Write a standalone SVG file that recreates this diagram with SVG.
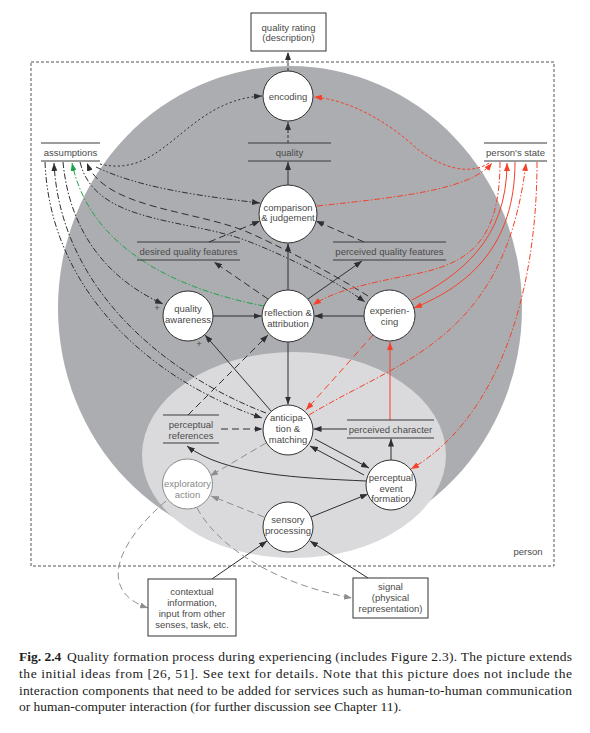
<svg xmlns="http://www.w3.org/2000/svg" width="590" height="733" viewBox="0 0 590 733">
<style>
.t{font-family:"Liberation Sans",Arial,sans-serif;font-size:9.5px;fill:#4a4a4a;text-anchor:middle}
.tg{fill:#8a8a8a}
.nd{fill:#fff;stroke:#333;stroke-width:1}
.ng{fill:#fff;stroke:#8c8c8c;stroke-width:1}
.bx{fill:#fff;stroke:#333;stroke-width:1}
.bl{stroke:#3a3a3a;stroke-width:1}
.k{fill:none;stroke:#2e2e33;stroke-width:1}
.r{fill:none;stroke:#f5402a;stroke-width:1}
.g{fill:none;stroke:#1fa34a;stroke-width:1}
.gr{fill:none;stroke:#8e8e8e;stroke-width:1}
.ld{stroke-dasharray:7 4}
.dd{stroke-dasharray:6 2 1.5 2}
.ddd{stroke-dasharray:6 2 1.5 2 1.5 2}
.dt{stroke-dasharray:2 2.5}
.sd{stroke-dasharray:3 2}
.cap{font-family:"Liberation Serif","Times New Roman",serif;font-size:13.5px;fill:#222}
</style>
<defs>
<marker id="mk" viewBox="0 0 8 6" refX="8" refY="3" markerWidth="8" markerHeight="6" markerUnits="userSpaceOnUse" orient="auto"><path d="M0,0L8,3L0,6z" fill="#2e2e33"/></marker>
<marker id="mr" viewBox="0 0 8 6" refX="8" refY="3" markerWidth="8" markerHeight="6" markerUnits="userSpaceOnUse" orient="auto"><path d="M0,0L8,3L0,6z" fill="#f5402a"/></marker>
<marker id="mg" viewBox="0 0 8 6" refX="8" refY="3" markerWidth="8" markerHeight="6" markerUnits="userSpaceOnUse" orient="auto"><path d="M0,0L8,3L0,6z" fill="#1fa34a"/></marker>
<marker id="mgr" viewBox="0 0 8 6" refX="8" refY="3" markerWidth="8" markerHeight="6" markerUnits="userSpaceOnUse" orient="auto"><path d="M0,0L8,3L0,6z" fill="#8e8e8e"/></marker>
</defs>
<rect width="590" height="733" fill="#fff"/>
<g id="background">
<rect x="31" y="62" width="523" height="504" fill="none" stroke="#555" stroke-width="1" stroke-dasharray="3 2"/>
<ellipse cx="290" cy="308" rx="232" ry="242" fill="#acadb0"/>
<ellipse cx="294" cy="455" rx="152" ry="103" fill="#dadadc"/>
<text class="t" x="528" y="555">person</text>
</g>
<g id="connectors">
<path class="k" d="M288,185L288,162" marker-end="url(#mk)"/>
<path class="k sd" d="M288,143L288,122" marker-end="url(#mk)"/>
<path class="k sd" d="M288,71L288,52" marker-end="url(#mk)"/>
<path class="k" d="M288,290L288,243.5" marker-end="url(#mk)"/>
<path class="k" d="M288,342L288,404.5" marker-end="url(#mk)"/>
<path class="k" d="M213,316L261.5,316" marker-end="url(#mk)"/>
<path class="k" d="M364,316L314.5,316" marker-end="url(#mk)"/>
<path class="k" d="M308,299L362,261" marker-end="url(#mk)"/>
<path class="k ld" d="M364,242L316,221" marker-end="url(#mk)"/>
<path class="k ld" d="M209,242L260,221" marker-end="url(#mk)"/>
<path class="k ld" d="M268,299L214,262" marker-end="url(#mk)"/>
<path class="k" d="M271,411L205,335" marker-end="url(#mk)"/>
<path class="k ld" d="M188,415L268,335" marker-end="url(#mk)"/>
<path class="k ld" d="M221,429L262.5,429" marker-end="url(#mk)"/>
<path class="k" d="M347,429L313.5,429" marker-end="url(#mk)"/>
<path class="k" d="M391,460L391,438.5" marker-end="url(#mk)"/>
<path class="k" d="M315,439L369,468" marker-end="url(#mk)"/>
<path class="k" d="M364,475L310,446" marker-end="url(#mk)"/>
<path class="k" d="M366,481C300,478 225,475 187,446" marker-end="url(#mk)"/>
<path class="k" d="M311,517L368,494" marker-end="url(#mk)"/>
<path class="k" d="M212,579L267,541" marker-end="url(#mk)"/>
<path class="k" d="M368,578L310,541" marker-end="url(#mk)"/>
<path class="gr ld" d="M266,443L210,476" marker-end="url(#mgr)"/>
<path class="gr ld" d="M264,517L211,496" marker-end="url(#mgr)"/>
<path class="gr ld" d="M166,501C120,540 95,590 148,608" marker-end="url(#mgr)"/>
<path class="gr ld" d="M197,508C220,550 280,585 352,598" marker-end="url(#mgr)"/>
<path class="k dt" d="M100,164C165,180 185,100 262,96" marker-end="url(#mk)"/>
<path class="k ddd" d="M96,167C140,188 200,196 260,203" marker-end="url(#mk)"/>
<path class="k ddd" d="M80,162C95,225 190,218 250,242C300,262 340,284 365,302" marker-end="url(#mk)"/>
<path class="k ld" d="M368,296C343,280 300,256 252,234C200,210 105,210 87,163" marker-end="url(#mk)"/>
<path class="k dd" d="M63,162C70,235 110,280 163,304" marker-end="url(#mk)"/>
<path class="k ddd" d="M45,162C50,290 150,380 262,418" marker-end="url(#mk)"/>
<path class="k dd" d="M266,413C160,372 60,285 54,163" marker-end="url(#mk)"/>
<path class="g dd" d="M264,306C180,290 90,250 72,163" marker-end="url(#mg)"/>
<path class="r sd" d="M489,163C470,176 440,168 415,147C388,122 350,100 314,97" marker-end="url(#mr)"/>
<path class="r dd" d="M317,206C400,197 470,190 492,163" marker-end="url(#mr)"/>
<path class="r dd" d="M500,162C500,240 470,262 420,273C370,283 335,290 313,305" marker-end="url(#mr)"/>
<path class="r" d="M412,300C460,275 507,240 507,163" marker-end="url(#mr)"/>
<path class="r" d="M515,162C515,245 470,285 414,308" marker-end="url(#mr)"/>
<path class="r dd" d="M309,415C400,360 505,340 526,163" marker-end="url(#mr)"/>
<path class="r dd" d="M537,162C537,300 495,420 411,469" marker-end="url(#mr)"/>
<path class="r ld" d="M373,335L306,410" marker-end="url(#mr)"/>
<path class="r" d="M390,420L390,342" marker-end="url(#mr)"/>
</g>
<g id="quality-rating"><rect class="bx" x="251" y="13" width="75" height="38"/><text class="t" x="288.5" y="30.5">quality rating</text><text class="t" x="288.5" y="41">(description)</text></g>
<g id="encoding"><circle class="nd" cx="288" cy="96" r="25"/><text class="t" x="288" y="100">encoding</text></g>
<g id="quality"><line class="bl" x1="248" y1="143" x2="331" y2="143"/><line class="bl" x1="248" y1="161" x2="331" y2="161"/><text class="t" x="289.5" y="156">quality</text></g>
<g id="assumptions"><line class="bl" x1="41" y1="143" x2="100" y2="143"/><line class="bl" x1="41" y1="161" x2="100" y2="161"/><text class="t" x="70.5" y="156">assumptions</text></g>
<g id="persons-state"><line class="bl" x1="484" y1="143" x2="547" y2="143"/><line class="bl" x1="484" y1="161" x2="547" y2="161"/><text class="t" x="515.5" y="156">person's state</text></g>
<g id="comparison"><circle class="nd" cx="288" cy="214" r="29"/><text class="t" x="288" y="210.5">comparison</text><text class="t" x="288" y="221">&amp; judgement</text></g>
<g id="desired-quality-features"><line class="bl" x1="137" y1="242" x2="240" y2="242"/><line class="bl" x1="137" y1="260" x2="240" y2="260"/><text class="t" x="188.5" y="254.5">desired quality features</text></g>
<g id="perceived-quality-features"><line class="bl" x1="333" y1="242" x2="446" y2="242"/><line class="bl" x1="333" y1="260" x2="446" y2="260"/><text class="t" x="389.5" y="254.5">perceived quality features</text></g>
<g id="quality-awareness"><circle class="nd" cx="188" cy="316" r="25"/><text class="t" x="188" y="311.5">quality</text><text class="t" x="188" y="322.5">awareness</text><text class="t" x="157" y="310.5" font-size="9">+</text><text class="t" x="199" y="346.5" font-size="9">+</text></g>
<g id="reflection"><circle class="nd" cx="288" cy="316" r="26"/><text class="t" x="288" y="315.5">reflection &amp;</text><text class="t" x="288" y="326.5">attribution</text></g>
<g id="experiencing"><circle class="nd" cx="389.5" cy="315.5" r="25.5"/><text class="t" x="389.5" y="313.5">experien-</text><text class="t" x="389.5" y="324.5">cing</text></g>
<g id="perceptual-references"><line class="bl" x1="163" y1="415" x2="219" y2="415"/><line class="bl" x1="163" y1="443" x2="219" y2="443"/><text class="t" x="191" y="427.5">perceptual</text><text class="t" x="191" y="438.5">references</text></g>
<g id="anticipation"><circle class="nd" cx="288" cy="430" r="25"/><text class="t" x="288" y="420.5">anticipa-</text><text class="t" x="288" y="431.5">tion &amp;</text><text class="t" x="288" y="442.5">matching</text></g>
<g id="perceived-character"><line class="bl" x1="347" y1="420" x2="434" y2="420"/><line class="bl" x1="347" y1="438" x2="434" y2="438"/><text class="t" x="390.5" y="432.5">perceived character</text></g>
<g id="perceptual-event-formation"><circle class="nd" cx="391" cy="485" r="25"/><text class="t" x="391" y="480.5">perceptual</text><text class="t" x="391" y="491.5">event</text><text class="t" x="391" y="502">formation</text></g>
<g id="exploratory-action"><circle class="ng" cx="187.5" cy="484" r="25"/><text class="t tg" x="187.5" y="486.5">exploratory</text><text class="t tg" x="187.5" y="497.5">action</text></g>
<g id="sensory-processing"><circle class="nd" cx="288" cy="527" r="25"/><text class="t" x="288" y="522.5">sensory</text><text class="t" x="288" y="533.5">processing</text></g>
<g id="contextual-information"><rect class="bx" x="148" y="579" width="88" height="57"/><text class="t" x="192" y="595">contextual</text><text class="t" x="192" y="605.5">information,</text><text class="t" x="192" y="616.5">input from other</text><text class="t" x="192" y="628">senses, task, etc.</text></g>
<g id="signal"><rect class="bx" x="353" y="578" width="75" height="40"/><text class="t" x="390.5" y="590">signal</text><text class="t" x="390.5" y="601">(physical</text><text class="t" x="390.5" y="612">representation)</text></g>
<g id="caption">
<text class="cap" x="19" y="661" font-weight="bold">Fig. 2.4</text>
<text class="cap" x="67" y="661" textLength="505" lengthAdjust="spacing">Quality formation process during experiencing (includes Figure 2.3). The picture extends</text>
<text class="cap" x="19" y="678" textLength="553" lengthAdjust="spacing">the initial ideas from [26, 51]. See text for details. Note that this picture does not include the</text>
<text class="cap" x="19" y="695" textLength="553" lengthAdjust="spacing">interaction components that need to be added for services such as human-to-human communication</text>
<text class="cap" x="19" y="711">or human-computer interaction (for further discussion see Chapter 11).</text>
</g>
</svg>
